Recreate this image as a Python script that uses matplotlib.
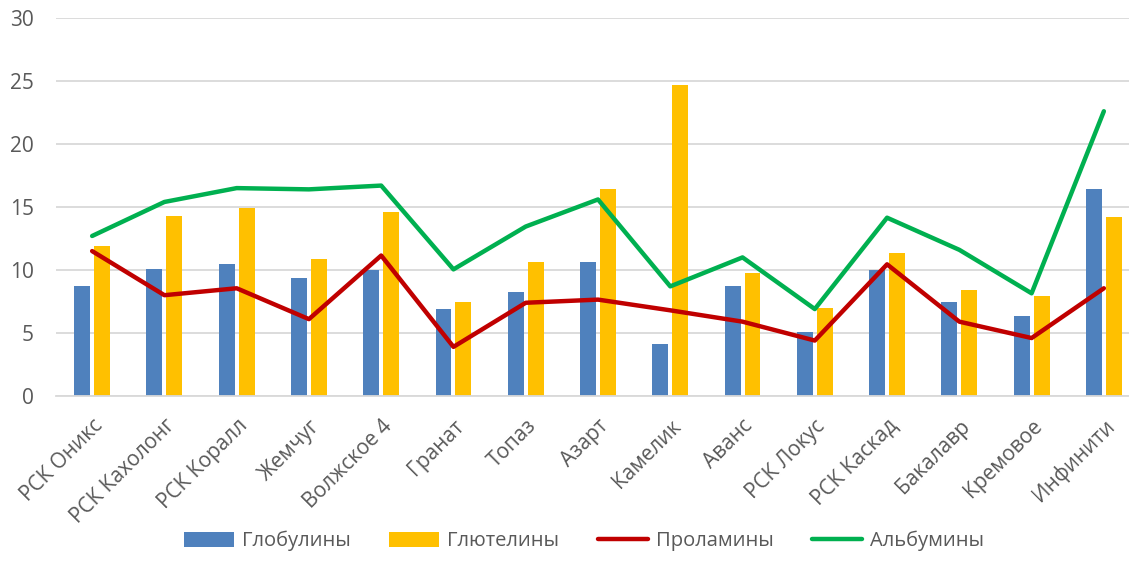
import matplotlib
matplotlib.use("Agg")
import matplotlib.pyplot as plt
import numpy as np

plt.rcParams['font.family'] = ['Open Sans', 'DejaVu Sans']

categories = ["РСК Оникс", "РСК Кахолонг", "РСК Коралл", "Жемчуг", "Волжское 4",
              "Гранат", "Топаз", "Азарт", "Камелик", "Аванс", "РСК Локус",
              "РСК Каскад", "Бакалавр", "Кремовое", "Инфинити"]
globulins = [8.7, 10.05, 10.5, 9.4, 10.0, 6.9, 8.25, 10.6, 4.1, 8.7, 5.1, 10.0, 7.5, 6.35, 16.4]
glutelins = [11.9, 14.3, 14.95, 10.9, 14.6, 7.5, 10.6, 16.4, 24.7, 9.8, 7.0, 11.35, 8.45, 7.9, 14.2]
prolamins = [11.5, 8.0, 8.55, 6.1, 11.15, 3.9, 7.4, 7.65, 6.8, 5.9, 4.4, 10.45, 5.9, 4.6, 8.55]
albumins = [12.7, 15.4, 16.5, 16.4, 16.7, 10.05, 13.45, 15.6, 8.7, 11.0, 6.9, 14.15, 11.6, 8.15, 22.6]
yticks = [0, 5, 10, 15, 20, 25, 30]

W, H = 1129, 581
fig = plt.figure(figsize=(W / 100, H / 100), dpi=100)
ax = fig.add_axes([56 / W, 1 - 396 / H, (1140 - 56) / W, (396 - 18) / H])

x = np.arange(len(categories))
bw = 0.22
off = 0.138
b1 = ax.bar(x - off, globulins, bw, color='#4F81BD', label='Глобулины', zorder=2)
b2 = ax.bar(x + off, glutelins, bw, color='#FFC000', label='Глютелины', zorder=2)
l1, = ax.plot(x, prolamins, color='#C00000', lw=3.2, label='Проламины', zorder=3,
              solid_capstyle='round', solid_joinstyle='round')
l2, = ax.plot(x, albumins, color='#00B050', lw=3.2, label='Альбумины', zorder=3,
              solid_capstyle='round', solid_joinstyle='round')

ax.set_xlim(-0.5, len(categories) - 0.5)
ax.set_ylim(0, 30)
ax.set_yticks(yticks)
ax.yaxis.grid(True, color='#D9D9D9', lw=1.3, zorder=0)
ax.set_axisbelow(True)
for s in ['top', 'right', 'left']:
    ax.spines[s].set_visible(False)
ax.spines['bottom'].set_color('#D9D9D9')
ax.spines['bottom'].set_linewidth(1.3)
ax.tick_params(axis='y', length=0, pad=16, labelsize=15, labelcolor='#595959')
ax.tick_params(axis='x', length=0, pad=14, labelsize=15, labelcolor='#595959')
ax.set_xticks(x)
ax.set_xticklabels(categories, rotation=45, ha='right', rotation_mode='anchor')

leg = fig.legend([b1, b2, l1, l2], ['Глобулины', 'Глютелины', 'Проламины', 'Альбумины'],
                 loc='center', bbox_to_anchor=(584 / W, 1 - 541 / H),
                 ncol=4, frameon=False, fontsize=14.5, handlelength=2.5, handleheight=0.75,
                 handletextpad=0.4, columnspacing=1.9, labelcolor='#595959')

fig.savefig('out.png', dpi=100)
